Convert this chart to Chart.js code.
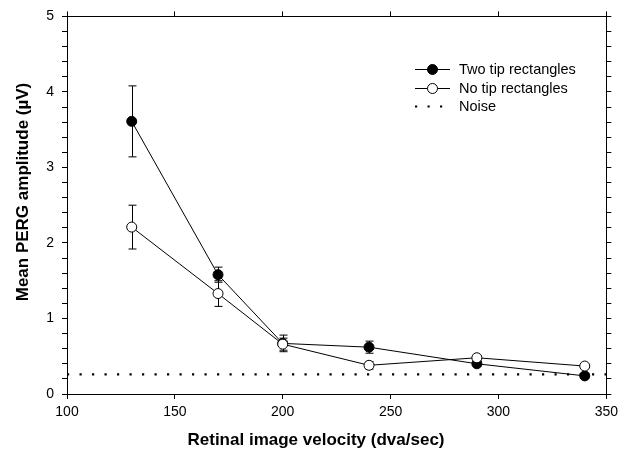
<!DOCTYPE html>
<html>
<head>
<meta charset="utf-8">
<script src="https://cdn.jsdelivr.net/npm/chart.js@4/dist/chart.umd.min.js"></script>
<style>
  html, body { margin: 0; padding: 0; background: #fff; }
  #wrap { width: 623px; height: 460px; }
</style>
</head>
<body>
<div id="wrap"><canvas id="perg" width="623" height="460"></canvas></div>
<script>
// velocities (dva/sec)
const velocities = [130, 170, 200, 240, 290, 340];
// mean PERG amplitude (µV) and error
const twoTip = [3.61, 1.58, 0.67, 0.62, 0.40, 0.24];
const twoTipErr = [0.47, 0.10, 0.11, 0.08, 0.03, 0.02];
const noTip = [2.21, 1.33, 0.66, 0.38, 0.48, 0.37];
const noTipErr = [0.29, 0.17, 0.08, 0.05, 0.03, 0.02];
const noiseLevel = 0.26;
const noiseRange = [100, 350];
const seriesNames = ['Two tip rectangles', 'No tip rectangles', 'Noise'];
const xTitle = 'Retinal image velocity (dva/sec)';
const yTitle = 'Mean PERG amplitude (µV)';

const FONT = '"Liberation Sans", Arial, Helvetica, sans-serif';

function pts(xs, ys) {
    return xs.map((x, i) => ({ x: x, y: ys[i] }));
}

// error bars, drawn under the markers
const errorBars = {
    id: 'errorBars',
    beforeDatasetsDraw(chart) {
        const ctx = chart.ctx;
        const xs = chart.scales.x, ys = chart.scales.y;
        const sets = [[twoTip, twoTipErr], [noTip, noTipErr]];
        ctx.save();
        ctx.strokeStyle = '#000';
        ctx.lineWidth = 1;
        sets.forEach(([vals, errs]) => {
            vals.forEach((v, i) => {
                const px = Math.round(xs.getPixelForValue(velocities[i])) + 0.5;
                const top = ys.getPixelForValue(v + errs[i]);
                const bot = ys.getPixelForValue(v - errs[i]);
                ctx.beginPath();
                ctx.moveTo(px, top); ctx.lineTo(px, bot);
                ctx.moveTo(px - 4, top); ctx.lineTo(px + 4, top);
                ctx.moveTo(px - 4, bot); ctx.lineTo(px + 4, bot);
                ctx.stroke();
            });
        });
        ctx.restore();
    }
};

// axis titles and the legend box
const decorations = {
    id: 'decorations',
    afterDraw(chart) {
        const ctx = chart.ctx;
        ctx.save();
        ctx.fillStyle = '#000';
        ctx.font = 'bold 17px ' + FONT;
        ctx.textAlign = 'center';
        ctx.textBaseline = 'middle';
        ctx.fillText(xTitle, 316, 440);
        ctx.save();
        ctx.translate(23, 192);
        ctx.rotate(-Math.PI / 2);
        ctx.fillText(yTitle, 0, 0);
        ctx.restore();

        // legend
        ctx.font = '14.5px ' + FONT;
        ctx.textAlign = 'left';
        const lx = 415, rowY = [69, 88, 106];
        chart.data.datasets.forEach((ds, i) => {
            const y = rowY[i];
            ctx.strokeStyle = '#000';
            if (ds.borderDash && ds.borderDash.length) {
                ctx.lineWidth = ds.borderWidth;
                ctx.setLineDash(ds.borderDash);
            } else {
                ctx.lineWidth = 1;
                ctx.setLineDash([]);
            }
            ctx.beginPath();
            ctx.moveTo(lx, y + 0.5);
            ctx.lineTo(lx + 35, y + 0.5);
            ctx.stroke();
            ctx.setLineDash([]);
            if (ds.pointRadius > 0) {
                ctx.beginPath();
                ctx.arc(lx + 17.5, y + 0.5, ds.pointRadius, 0, Math.PI * 2);
                ctx.fillStyle = ds.pointBackgroundColor;
                ctx.fill();
                ctx.lineWidth = 1;
                ctx.stroke();
            }
            ctx.fillStyle = '#000';
            ctx.fillText(ds.label, lx + 44, y + 1);
        });
        ctx.restore();
    }
};

const tickFont = { family: FONT, size: 14 };

new Chart(document.getElementById('perg'), {
    type: 'line',
    data: {
        datasets: [
            {
                label: seriesNames[0],
                data: pts(velocities, twoTip),
                borderColor: '#000',
                borderWidth: 1,
                pointRadius: 5,
                pointBackgroundColor: '#000',
                pointBorderColor: '#000',
                pointBorderWidth: 1,
                order: 2
            },
            {
                label: seriesNames[1],
                data: pts(velocities, noTip),
                borderColor: '#000',
                borderWidth: 1,
                pointRadius: 5,
                pointBackgroundColor: '#fff',
                pointBorderColor: '#000',
                pointBorderWidth: 1,
                order: 1
            },
            {
                label: seriesNames[2],
                data: pts(noiseRange, [noiseLevel, noiseLevel]),
                borderColor: '#000',
                borderWidth: 2.2,
                borderDash: [2.2, 10.3],
                pointRadius: 0,
                order: 3
            }
        ]
    },
    options: {
        responsive: false,
        animation: false,
        layout: { padding: { top: 15, right: 15, left: 0, bottom: 0 } },
        plugins: { legend: { display: false }, tooltip: { enabled: false } },
        scales: {
            x: {
                type: 'linear', position: 'bottom', min: 100, max: 350,
                afterFit: s => { s.height = 66; },
                ticks: { stepSize: 50, color: '#000', font: tickFont, padding: 5 },
                grid: { drawOnChartArea: false, tickLength: 5, color: '#000' },
                border: { color: '#000', width: 1 }
            },
            x2: {
                type: 'linear', position: 'top', min: 100, max: 350,
                afterFit: s => { s.height = 0; },
                ticks: { stepSize: 50, display: false },
                grid: { drawOnChartArea: false, tickLength: 5, color: '#000' },
                border: { color: '#000', width: 1 }
            },
            y: {
                type: 'linear', position: 'left', min: 0, max: 5,
                afterFit: s => { s.width = 67; },
                ticks: {
                    stepSize: 0.2, autoSkip: false, color: '#000', font: tickFont, padding: 8,
                    callback: v => Math.abs(v - Math.round(v)) < 1e-6 ? String(Math.round(v)) : ''
                },
                grid: { drawOnChartArea: false, tickLength: 5, color: '#000' },
                border: { color: '#000', width: 1 }
            },
            y2: {
                type: 'linear', position: 'right', min: 0, max: 5,
                afterFit: s => { s.width = 0; },
                ticks: { stepSize: 0.2, autoSkip: false, display: false },
                grid: { drawOnChartArea: false, tickLength: 5, color: '#000' },
                border: { color: '#000', width: 1 }
            }
        }
    },
    plugins: [errorBars, decorations]
});
</script>
</body>
</html>
